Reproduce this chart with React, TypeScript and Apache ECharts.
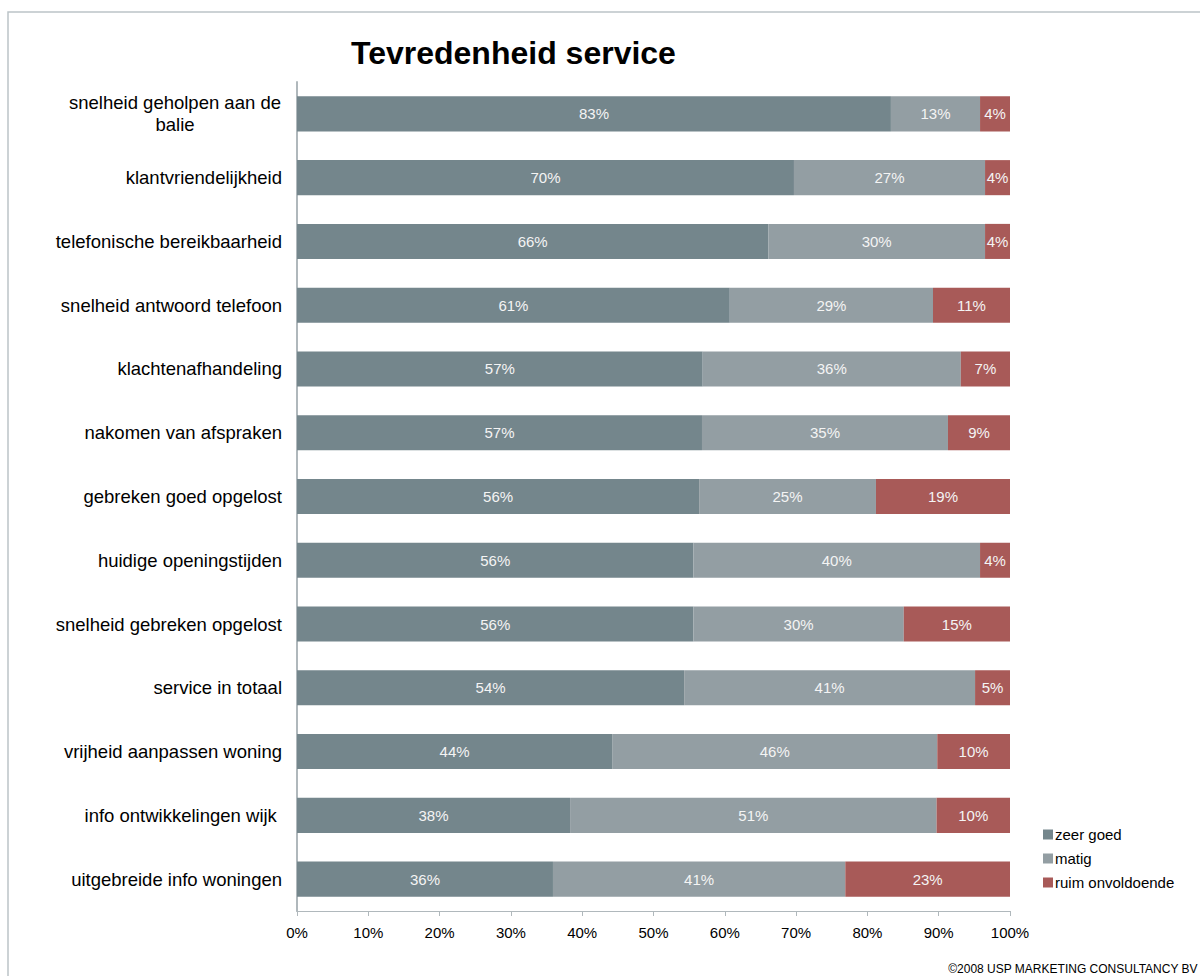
import React, { useEffect, useRef } from "react";
import * as echarts from "echarts";

const categories = [
  "snelheid geholpen aan de balie",
  "klantvriendelijkheid",
  "telefonische bereikbaarheid",
  "snelheid antwoord telefoon",
  "klachtenafhandeling",
  "nakomen van afspraken",
  "gebreken goed opgelost",
  "huidige openingstijden",
  "snelheid gebreken opgelost",
  "service in totaal",
  "vrijheid aanpassen woning",
  "info ontwikkelingen wijk ",
  "uitgebreide info woningen",
];

const zeerGoed = [83.3, 69.7, 66.1, 60.7, 56.9, 56.8, 56.4, 55.6, 55.6, 54.3, 44.2, 38.3, 35.9];
const matig = [12.5, 26.8, 30.4, 28.5, 36.2, 34.5, 24.8, 40.2, 29.5, 40.8, 45.6, 51.4, 41.0];
const ruimOnvoldoende = [4.2, 3.5, 3.5, 10.8, 6.9, 8.7, 18.8, 4.2, 14.9, 4.9, 10.2, 10.3, 23.1];

const xTicks = [0, 10, 20, 30, 40, 50, 60, 70, 80, 90, 100];

const seriesNames = ["zeer goed", "matig", "ruim onvoldoende"];
const seriesColors = ["#74868c", "#939ea3", "#a85a58"];

export default function App() {
  const ref = useRef<HTMLDivElement>(null);
  useEffect(() => {
    document.body.style.margin = "0";
    const chart = echarts.init(ref.current!, null, { renderer: "svg" });
    const font = "Liberation Sans, Arial, sans-serif";
    const label = {
      show: true,
      position: "inside" as const,
      color: "#f4f4f4",
      fontSize: 15,
      fontFamily: font,
      formatter: (p: any) => Math.round(p.value) + "%",
    };
    const datasets = [zeerGoed, matig, ruimOnvoldoende];
    chart.setOption({
      animation: false,
      backgroundColor: "#ffffff",
      textStyle: { fontFamily: font },
      title: {
        text: "Tevredenheid service",
        left: 346,
        top: 32,
        textStyle: { fontSize: 32, fontWeight: "bold", color: "#000", fontFamily: font },
      },
      grid: { left: 297, right: 190, top: 82, bottom: 65, containLabel: false },
      legend: {
        orient: "vertical",
        left: 1038,
        top: 822,
        itemWidth: 10,
        itemHeight: 10,
        itemGap: 9,
        icon: "rect",
        data: seriesNames,
        textStyle: { fontSize: 15, color: "#000", fontFamily: font, padding: [0, 0, 0, -3] },
      },
      xAxis: {
        type: "value",
        min: 0,
        max: 100,
        interval: 10,
        axisLine: { show: true, lineStyle: { color: "#b0b8bc", width: 1 } },
        axisTick: { show: true, length: 5, lineStyle: { color: "#b0b8bc" } },
        splitLine: { show: false },
        axisLabel: {
          color: "#000",
          fontSize: 15,
          margin: 14,
          fontFamily: font,
          formatter: (v: number) => (xTicks.includes(v) ? v + "%" : ""),
        },
      },
      yAxis: {
        type: "category",
        inverse: true,
        data: categories,
        axisLine: { show: true, lineStyle: { color: "#b0b8bc", width: 2 } },
        axisTick: { show: false },
        axisLabel: {
          color: "#000",
          fontSize: 18.5,
          margin: 15,
          fontFamily: font,
          formatter: (v: string) => {
            if (v.length > 28) {
              const idx = v.lastIndexOf(" ");
              return "{c|" + v.slice(0, idx) + "}\n{c|" + v.slice(idx + 1) + "}";
            }
            return v;
          },
          rich: {
            c: { width: 214, align: "center", fontSize: 18.5, color: "#000", fontFamily: font, lineHeight: 22 },
          },
        },
      },
      series: datasets.map((d, i) => ({
        name: seriesNames[i],
        type: "bar",
        stack: "total",
        data: d,
        barWidth: "55%",
        itemStyle: { color: seriesColors[i] },
        label,
      })),
      graphic: [
        {
          type: "rect",
          shape: { x: 8, y: 12, width: 1300, height: 1100 },
          style: { fill: "none", stroke: "#bcc4c8", lineWidth: 1.5 },
          silent: true,
        },
        {
          type: "text",
          right: 2,
          top: 963,
          style: { text: "©2008 USP MARKETING CONSULTANCY BV", fontSize: 12, fill: "#000", fontFamily: font },
        },
      ],
    });
    return () => chart.dispose();
  }, []);
  return <div ref={ref} style={{ width: 1200, height: 976 }} />;
}
